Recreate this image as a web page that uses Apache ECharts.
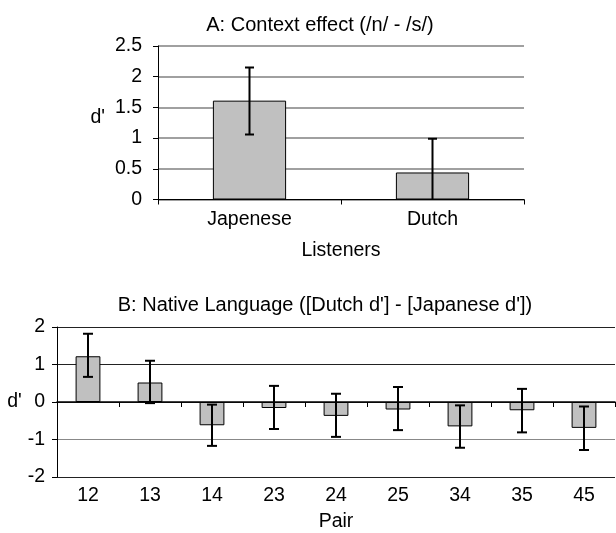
<!DOCTYPE html>
<html>
<head>
<meta charset="utf-8">
<script src="https://cdn.jsdelivr.net/npm/echarts@6/dist/echarts.min.js"></script>
<style>
  html, body { margin: 0; padding: 0; background: #fff; }
  #chart { width: 616px; height: 533px; }
</style>
</head>
<body>
<div id="chart"></div>
<script>
// ---- Data ----
var titleA = 'A: Context effect (/n/ - /s/)';
var titleB = "B: Native Language ([Dutch d'] - [Japanese d'])";

var listeners = ['Japenese', 'Dutch'];
var contextMean = [1.61, 0.44];
var contextErrHigh = [2.15, 0.99];
var contextErrLow = [1.06, -0.11];
var yTicksA = [0, 0.5, 1, 1.5, 2, 2.5];

var pairs = ['12', '13', '14', '23', '24', '25', '34', '35', '45'];
var nativeMean = [1.22, 0.52, -0.62, -0.16, -0.37, -0.20, -0.65, -0.22, -0.69];
var nativeErrHigh = [1.82, 1.10, -0.07, 0.43, 0.22, 0.40, -0.09, 0.35, -0.12];
var nativeErrLow = [0.67, -0.03, -1.17, -0.72, -0.93, -0.75, -1.22, -0.81, -1.28];
var yTicksB = [-2, -1, 0, 1, 2];

// ---- Style ----
var FONT = "'Liberation Sans', Arial, Helvetica, sans-serif";
var FS = 19.5;
var FS_TITLE = 20;
var BAR_FILL = '#c0c0c0';

function errData(low, high) {
  return low.map(function (l, i) { return [i, l, high[i]]; });
}

function errRender(capHalf) {
  return function (params, api) {
    var x = api.value(0);
    var lo = api.coord([x, api.value(1)]);
    var hi = api.coord([x, api.value(2)]);
    var st = { stroke: '#000', lineWidth: 2 };
    return {
      type: 'group',
      children: [
        { type: 'line', shape: { x1: lo[0], y1: lo[1], x2: hi[0], y2: hi[1] }, style: st },
        { type: 'line', shape: { x1: hi[0] - capHalf, y1: hi[1], x2: hi[0] + capHalf, y2: hi[1] }, style: st },
        { type: 'line', shape: { x1: lo[0] - capHalf, y1: lo[1], x2: lo[0] + capHalf, y2: lo[1] }, style: st }
      ]
    };
  };
}

var labelStyle = { color: '#000', fontFamily: FONT, fontSize: FS };
var titleStyle = { fontFamily: FONT, fontSize: FS_TITLE, fontWeight: 'normal', color: '#000' };

var option = {
  animation: false,
  backgroundColor: '#fff',
  textStyle: { fontFamily: FONT, color: '#000' },
  title: [
    { text: titleA, left: 320, top: 15, textAlign: 'center', padding: 0, textStyle: titleStyle },
    { text: titleB, left: 325, top: 295, textAlign: 'center', padding: 0, textStyle: titleStyle }
  ],
  grid: [
    { left: 158, right: 92, top: 46, height: 153.5 },
    { left: 57, right: 1, top: 327, height: 154.5 }
  ],
  xAxis: [
    {
      gridIndex: 0, type: 'category', data: listeners,
      axisLine: { lineStyle: { color: '#000', width: 1 } },
      axisTick: { show: true, length: 5, lineStyle: { color: '#000' } },
      axisLabel: Object.assign({ margin: 10 }, labelStyle),
      name: 'Listeners', nameLocation: 'middle', nameGap: 41,
      nameTextStyle: labelStyle
    },
    {
      gridIndex: 1, type: 'category', data: pairs, position: 'bottom',
      axisLine: { show: false, onZero: false },
      axisTick: { show: false },
      axisLabel: Object.assign({ margin: 9 }, labelStyle),
      name: 'Pair', nameLocation: 'middle', nameGap: 35,
      nameTextStyle: labelStyle
    },
    {
      gridIndex: 1, type: 'category', data: pairs, position: 'top',
      axisLine: { show: true, onZero: true, lineStyle: { color: '#000', width: 1.5 } },
      axisTick: { show: true, inside: true, length: 5, lineStyle: { color: '#000' } },
      axisLabel: { show: false }
    }
  ],
  yAxis: [
    {
      gridIndex: 0, type: 'value',
      min: yTicksA[0], max: yTicksA[yTicksA.length - 1], interval: yTicksA[1] - yTicksA[0],
      axisLine: { show: true, lineStyle: { color: '#000', width: 1 } },
      axisTick: { show: true, length: 5, lineStyle: { color: '#000' } },
      axisLabel: Object.assign({ margin: 16 }, labelStyle),
      splitLine: { show: true, lineStyle: { color: '#808080', width: 1.5 } },
      name: "d'", nameLocation: 'middle', nameRotate: 0, nameGap: 53,
      nameTextStyle: Object.assign({ verticalAlign: 'bottom', lineHeight: 10 }, labelStyle)
    },
    {
      gridIndex: 1, type: 'value',
      min: yTicksB[0], max: yTicksB[yTicksB.length - 1], interval: yTicksB[1] - yTicksB[0],
      axisLine: { show: true, lineStyle: { color: '#000', width: 1 } },
      axisTick: { show: true, length: 5, lineStyle: { color: '#000' } },
      axisLabel: Object.assign({ margin: 12 }, labelStyle),
      splitLine: { show: true, lineStyle: { color: ['#222', '#888', '#222', '#222', '#222'], width: 1.2 } },
      name: "d'", nameLocation: 'middle', nameRotate: 0, nameGap: 32,
      nameTextStyle: labelStyle
    }
  ],
  series: [
    {
      type: 'bar', xAxisIndex: 0, yAxisIndex: 0, data: contextMean, barWidth: '40%',
      itemStyle: { color: BAR_FILL, borderColor: '#000', borderWidth: 1 }
    },
    {
      type: 'custom', xAxisIndex: 0, yAxisIndex: 0, data: errData(contextErrLow, contextErrHigh),
      renderItem: errRender(4.5), clip: true, z: 5
    },
    {
      type: 'bar', xAxisIndex: 1, yAxisIndex: 1, data: nativeMean, barWidth: '40%',
      itemStyle: { color: BAR_FILL, borderColor: '#000', borderWidth: 1 }
    },
    {
      type: 'custom', xAxisIndex: 1, yAxisIndex: 1, data: errData(nativeErrLow, nativeErrHigh),
      renderItem: errRender(5), clip: true, z: 5
    }
  ]
};

var chart = echarts.init(document.getElementById('chart'), null, { renderer: 'canvas' });
chart.setOption(option);
</script>
</body>
</html>
